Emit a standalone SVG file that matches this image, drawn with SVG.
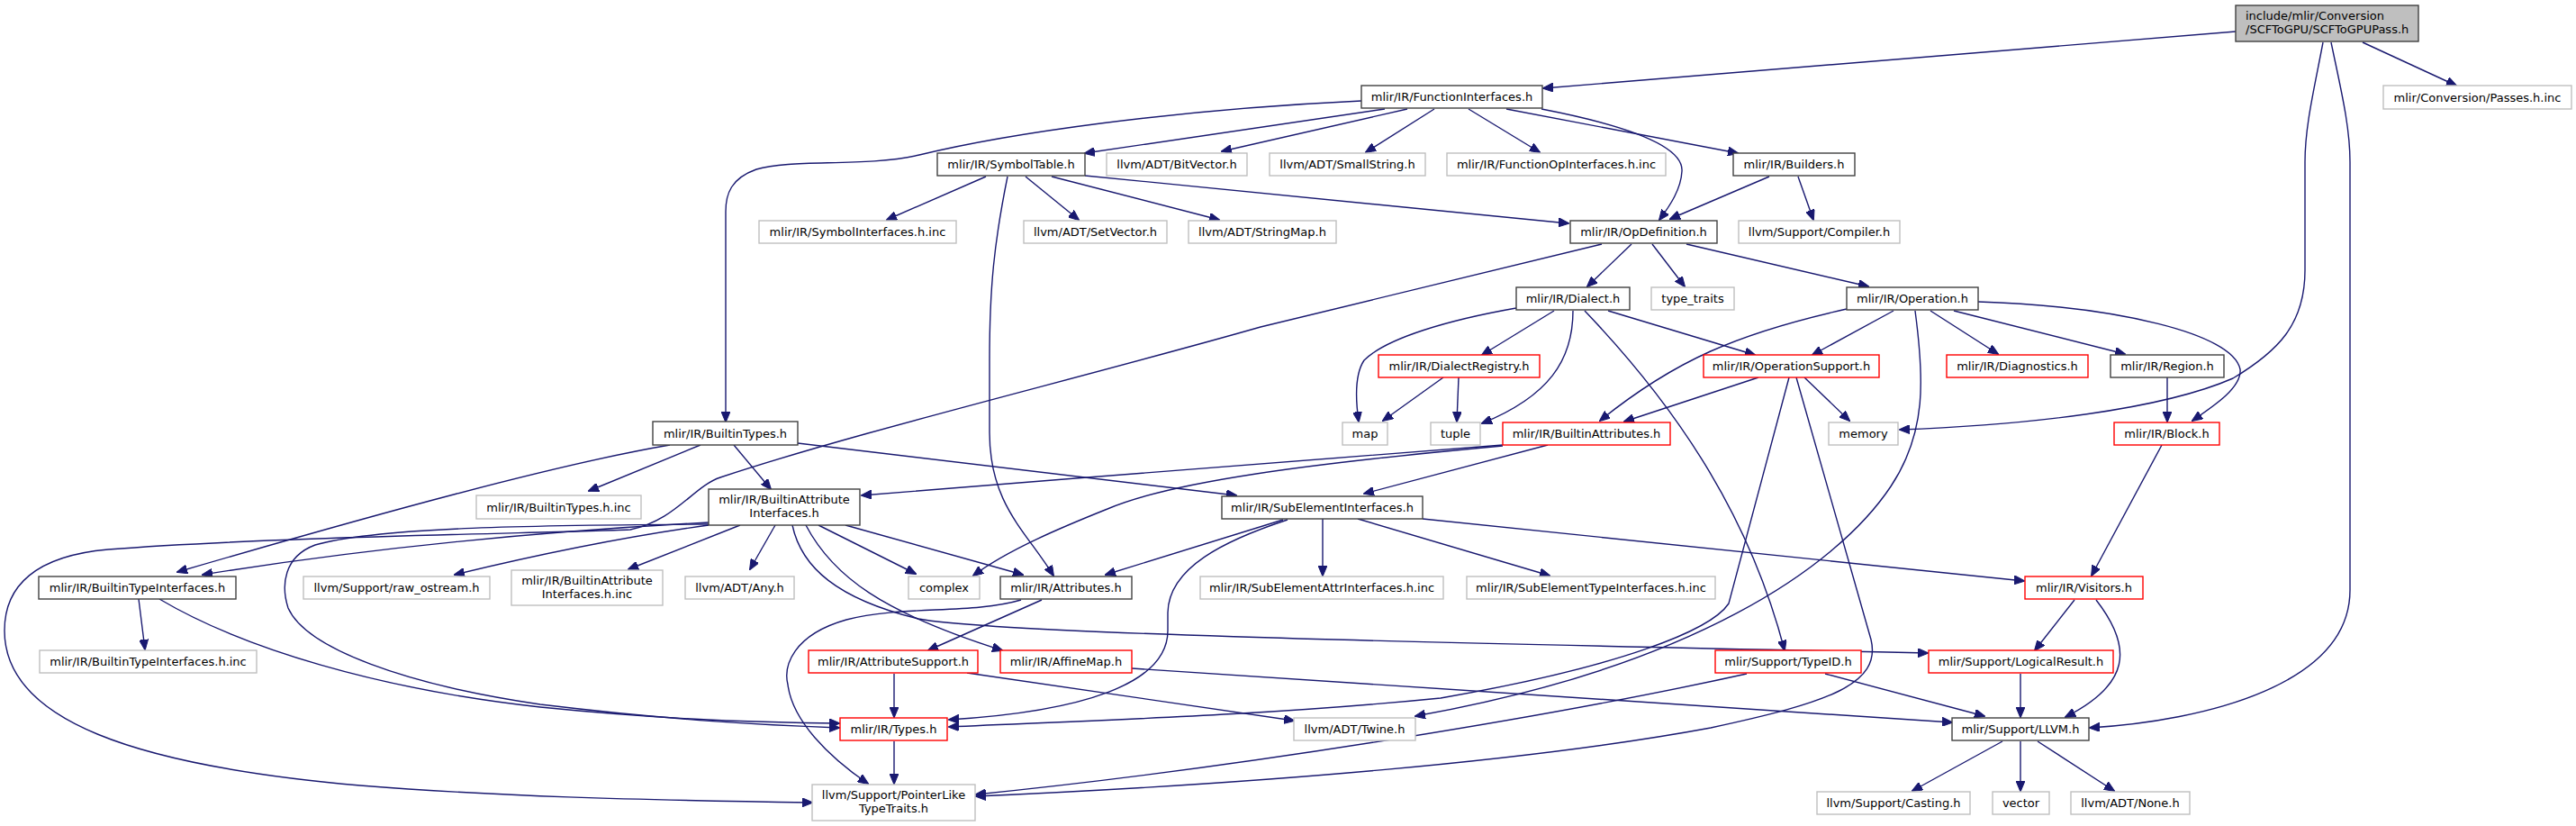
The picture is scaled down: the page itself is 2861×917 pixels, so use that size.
<svg xmlns="http://www.w3.org/2000/svg" width="2861" height="917" viewBox="0 0 2861 917">
<style>
rect{fill:#fff;stroke-width:1.4}
.b{stroke:#404040}
.g{stroke:#bfbfbf}
.r{stroke:#ff0000}
.root{fill:#bfbfbf;stroke:#404040}
text{font-family:"DejaVu Sans","Liberation Sans",sans-serif;font-size:13px;fill:#000;text-anchor:middle}
.lt{text-anchor:start}
#edges path{fill:none;stroke:#191970;stroke-width:1.4;marker-end:url(#ah)}
</style>
<defs>
<marker id="ah" viewBox="0 0 12 10" markerWidth="12" markerHeight="10" refX="11" refY="5" orient="auto" markerUnits="userSpaceOnUse">
<path d="M0,0 L12,5 L0,10 z" fill="#191970" stroke="#191970" stroke-width="1"/>
</marker>
</defs>
<rect x="0" y="0" width="2861" height="917" style="fill:#fff;stroke:none"/>
<g id="edges">
<path d="M2483,35 L1714,98"/>
<path d="M2624,47 L2728,95"/>
<path d="M2580,47 C2570,100 2560,140 2560,180 L2560,300 C2560,360 2530,390 2480,420 C2400,455 2250,472 2110,477"/>
<path d="M2589,47 C2600,100 2610,140 2610,180 L2610,655 C2610,760 2450,800 2321,808"/>
<path d="M1512,112 C1300,122 1120,148 1021,172 C960,186 880,176 840,188 C812,198 806,215 806,235 L806,468"/>
<path d="M1538,121 L1205,170"/>
<path d="M1563,121 L1357,168"/>
<path d="M1593,121 L1517,169"/>
<path d="M1631,121 L1710,169"/>
<path d="M1673,121 L1930,170"/>
<path d="M1712,121 C1800,138 1870,160 1868,190 C1867,210 1855,228 1843,244"/>
<path d="M1095,196 L985,244"/>
<path d="M1119,196 C1104,270 1099,320 1099,400 L1099,480 C1099,560 1140,590 1170,639"/>
<path d="M1139,196 L1198,244"/>
<path d="M1168,196 L1354,244"/>
<path d="M1205,195 L1742,248"/>
<path d="M1965,196 L1855,243"/>
<path d="M1997,196 L2014,244"/>
<path d="M1779,271 L1400,363 C1200,420 950,480 800,530 C770,540 750,578 700,588 C600,592 300,596 120,610 C40,617 5,650 5,700 C5,800 150,850 400,872 C550,884 700,888 902,891"/>
<path d="M1812,271 L1763,318"/>
<path d="M1835,271 L1871,318"/>
<path d="M1873,271 L2075,318"/>
<path d="M1684,342 C1610,355 1540,375 1515,400 C1505,415 1505,440 1509,468"/>
<path d="M1726,345 L1646,394"/>
<path d="M1747,345 C1747,400 1720,440 1646,470"/>
<path d="M1760,345 C1870,460 1945,580 1982,722"/>
<path d="M1786,345 L1949,394"/>
<path d="M1603,419 L1536,467"/>
<path d="M1620,419 L1618,468"/>
<path d="M2051,343 C1930,370 1860,400 1777,467"/>
<path d="M2103,345 L2013,394"/>
<path d="M2127,345 C2137,420 2140,480 2100,540 C2040,630 1880,740 1572,795"/>
<path d="M2144,345 L2219,393"/>
<path d="M2170,345 L2360,393"/>
<path d="M2197,335 C2350,340 2480,370 2488,410 C2490,430 2460,450 2435,467"/>
<path d="M2407,419 L2407,468"/>
<path d="M1953,419 L1804,468"/>
<path d="M2004,419 L2054,467"/>
<path d="M1987,419 L1920,670 C1900,700 1800,740 1600,775 C1400,795 1200,800 1054,807"/>
<path d="M1995,419 L2078,710 C2090,760 2030,780 1900,808 C1700,845 1400,870 1084,884"/>
<path d="M1669,494 C1500,508 1200,530 957,550"/>
<path d="M1719,494 L1515,548"/>
<path d="M1669,495 C1450,515 1300,535 1230,565 C1180,585 1120,610 1081,639"/>
<path d="M1425,577 L1228,638"/>
<path d="M1430,577 C1360,600 1298,630 1297,680 L1297,700 C1297,760 1200,790 1054,799"/>
<path d="M1469,576 L1469,639"/>
<path d="M1508,576 L1721,639"/>
<path d="M1580,576 L2248,645"/>
<path d="M744,494 C620,515 420,570 197,635"/>
<path d="M778,494 L654,545"/>
<path d="M815,494 L856,543"/>
<path d="M886,492 L1373,550"/>
<path d="M787,580 C600,590 400,610 225,638"/>
<path d="M787,583 C700,595 600,615 505,638"/>
<path d="M822,583 L698,632"/>
<path d="M787,582 C600,583 420,585 350,605 C315,618 312,650 320,675 C340,720 450,760 600,782 C750,800 850,805 932,808"/>
<path d="M861,583 L833,632"/>
<path d="M909,583 L1017,637"/>
<path d="M939,583 L1136,638"/>
<path d="M880,583 C890,630 930,665 1020,687 C1100,702 1500,712 2141,725"/>
<path d="M895,583 C925,640 980,680 1113,722"/>
<path d="M1157,666 L1031,722"/>
<path d="M1134,666 C1080,682 1000,672 940,688 C880,705 870,740 875,760 C880,800 920,840 964,870"/>
<path d="M993,748 L993,796"/>
<path d="M1074,747 L1437,800"/>
<path d="M1257,742 L2168,802"/>
<path d="M993,823 L993,870"/>
<path d="M177,665 C270,720 420,765 600,785 C750,800 850,802 932,803"/>
<path d="M154,665 L161,721"/>
<path d="M1940,748 C1750,790 1400,850 1084,882"/>
<path d="M2027,748 L2204,795"/>
<path d="M2304,666 L2260,722"/>
<path d="M2328,666 C2370,720 2365,760 2294,796"/>
<path d="M2401,494 L2323,639"/>
<path d="M2244,748 L2244,796"/>
<path d="M2224,823 L2124,878"/>
<path d="M2244,823 L2244,878"/>
<path d="M2263,823 L2348,878"/>
</g>
<g id="n0"><rect class="root" x="2483" y="6" width="203" height="40"/><text class="lt" x="2494" y="22">include/mlir/Conversion</text><text class="lt" x="2494" y="37">/SCFToGPU/SCFToGPUPass.h</text></g>
<g id="n1"><rect class="b" x="1512" y="95" width="201" height="25"/><text x="1612.5" y="112">mlir/IR/FunctionInterfaces.h</text></g>
<g id="n2"><rect class="g" x="2647" y="95" width="209" height="26"/><text x="2751.5" y="112.5">mlir/Conversion/Passes.h.inc</text></g>
<g id="n3"><rect class="b" x="1041" y="170" width="164" height="25"/><text x="1123" y="187">mlir/IR/SymbolTable.h</text></g>
<g id="n4"><rect class="g" x="1229" y="170" width="156" height="25"/><text x="1307" y="187">llvm/ADT/BitVector.h</text></g>
<g id="n5"><rect class="g" x="1410" y="170" width="173" height="25"/><text x="1496.5" y="187">llvm/ADT/SmallString.h</text></g>
<g id="n6"><rect class="g" x="1607" y="170" width="243" height="25"/><text x="1728.5" y="187">mlir/IR/FunctionOpInterfaces.h.inc</text></g>
<g id="n7"><rect class="b" x="1925" y="170" width="135" height="25"/><text x="1992.5" y="187">mlir/IR/Builders.h</text></g>
<g id="n8"><rect class="g" x="843" y="245" width="219" height="25"/><text x="952.5" y="262">mlir/IR/SymbolInterfaces.h.inc</text></g>
<g id="n9"><rect class="g" x="1137" y="245" width="159" height="25"/><text x="1216.5" y="262">llvm/ADT/SetVector.h</text></g>
<g id="n10"><rect class="g" x="1320" y="245" width="164" height="25"/><text x="1402" y="262">llvm/ADT/StringMap.h</text></g>
<g id="n11"><rect class="b" x="1744" y="245" width="163" height="25"/><text x="1825.5" y="262">mlir/IR/OpDefinition.h</text></g>
<g id="n12"><rect class="g" x="1931" y="245" width="179" height="25"/><text x="2020.5" y="262">llvm/Support/Compiler.h</text></g>
<g id="n13"><rect class="b" x="1684" y="319" width="126" height="25"/><text x="1747" y="336">mlir/IR/Dialect.h</text></g>
<g id="n14"><rect class="g" x="1834" y="319" width="92" height="25"/><text x="1880" y="336">type_traits</text></g>
<g id="n15"><rect class="b" x="2051" y="319" width="146" height="25"/><text x="2124" y="336">mlir/IR/Operation.h</text></g>
<g id="n16"><rect class="r" x="1531" y="394" width="179" height="25"/><text x="1620.5" y="411">mlir/IR/DialectRegistry.h</text></g>
<g id="n17"><rect class="r" x="1892" y="394" width="195" height="25"/><text x="1989.5" y="411">mlir/IR/OperationSupport.h</text></g>
<g id="n18"><rect class="r" x="2162" y="394" width="157" height="25"/><text x="2240.5" y="411">mlir/IR/Diagnostics.h</text></g>
<g id="n19"><rect class="b" x="2344" y="394" width="126" height="25"/><text x="2407" y="411">mlir/IR/Region.h</text></g>
<g id="n20"><rect class="b" x="725" y="468" width="161" height="26"/><text x="805.5" y="485.5">mlir/IR/BuiltinTypes.h</text></g>
<g id="n21"><rect class="g" x="1491" y="469" width="50" height="25"/><text x="1516" y="486">map</text></g>
<g id="n22"><rect class="g" x="1589" y="469" width="55" height="25"/><text x="1616.5" y="486">tuple</text></g>
<g id="n23"><rect class="r" x="1669" y="469" width="186" height="25"/><text x="1762" y="486">mlir/IR/BuiltinAttributes.h</text></g>
<g id="n24"><rect class="g" x="2031" y="469" width="77" height="25"/><text x="2069.5" y="486">memory</text></g>
<g id="n25"><rect class="r" x="2348" y="469" width="117" height="25"/><text x="2406.5" y="486">mlir/IR/Block.h</text></g>
<g id="n26"><rect class="g" x="529" y="550" width="183" height="26"/><text x="620.5" y="567.5">mlir/IR/BuiltinTypes.h.inc</text></g>
<g id="n27"><rect class="b" x="787" y="543" width="168" height="40"/><text x="871" y="559">mlir/IR/BuiltinAttribute</text><text x="871" y="574">Interfaces.h</text></g>
<g id="n28"><rect class="b" x="1357" y="551" width="223" height="25"/><text x="1468.5" y="568">mlir/IR/SubElementInterfaces.h</text></g>
<g id="n29"><rect class="b" x="43" y="640" width="219" height="25"/><text x="152.5" y="657">mlir/IR/BuiltinTypeInterfaces.h</text></g>
<g id="n30"><rect class="g" x="337" y="640" width="207" height="25"/><text x="440.5" y="657">llvm/Support/raw_ostream.h</text></g>
<g id="n31"><rect class="g" x="568" y="633" width="168" height="39"/><text x="652" y="649">mlir/IR/BuiltinAttribute</text><text x="652" y="663.5">Interfaces.h.inc</text></g>
<g id="n32"><rect class="g" x="761" y="640" width="121" height="25"/><text x="821.5" y="657">llvm/ADT/Any.h</text></g>
<g id="n33"><rect class="g" x="1009" y="640" width="79" height="25"/><text x="1048.5" y="657">complex</text></g>
<g id="n34"><rect class="b" x="1111" y="640" width="146" height="25"/><text x="1184" y="657">mlir/IR/Attributes.h</text></g>
<g id="n35"><rect class="g" x="1333" y="640" width="270" height="25"/><text x="1468" y="657">mlir/IR/SubElementAttrInterfaces.h.inc</text></g>
<g id="n36"><rect class="g" x="1629" y="640" width="276" height="25"/><text x="1767" y="657">mlir/IR/SubElementTypeInterfaces.h.inc</text></g>
<g id="n37"><rect class="r" x="2249" y="640" width="131" height="25"/><text x="2314.5" y="657">mlir/IR/Visitors.h</text></g>
<g id="n38"><rect class="g" x="44" y="722" width="241" height="25"/><text x="164.5" y="739">mlir/IR/BuiltinTypeInterfaces.h.inc</text></g>
<g id="n39"><rect class="r" x="898" y="722" width="188" height="25"/><text x="992" y="739">mlir/IR/AttributeSupport.h</text></g>
<g id="n40"><rect class="r" x="1111" y="722" width="146" height="25"/><text x="1184" y="739">mlir/IR/AffineMap.h</text></g>
<g id="n41"><rect class="r" x="1905" y="722" width="162" height="25"/><text x="1986" y="739">mlir/Support/TypeID.h</text></g>
<g id="n42"><rect class="r" x="2142" y="722" width="205" height="25"/><text x="2244.5" y="739">mlir/Support/LogicalResult.h</text></g>
<g id="n43"><rect class="r" x="933" y="797" width="119" height="25"/><text x="992.5" y="814">mlir/IR/Types.h</text></g>
<g id="n44"><rect class="g" x="1437" y="797" width="135" height="25"/><text x="1504.5" y="814">llvm/ADT/Twine.h</text></g>
<g id="n45"><rect class="b" x="2168" y="797" width="152" height="25"/><text x="2244" y="814">mlir/Support/LLVM.h</text></g>
<g id="n46"><rect class="g" x="902" y="871" width="181" height="40"/><text x="992.5" y="887">llvm/Support/PointerLike</text><text x="992.5" y="902">TypeTraits.h</text></g>
<g id="n47"><rect class="g" x="2018" y="879" width="170" height="25"/><text x="2103" y="896">llvm/Support/Casting.h</text></g>
<g id="n48"><rect class="g" x="2213" y="879" width="63" height="25"/><text x="2244.5" y="896">vector</text></g>
<g id="n49"><rect class="g" x="2300" y="879" width="132" height="25"/><text x="2366" y="896">llvm/ADT/None.h</text></g>
</svg>
